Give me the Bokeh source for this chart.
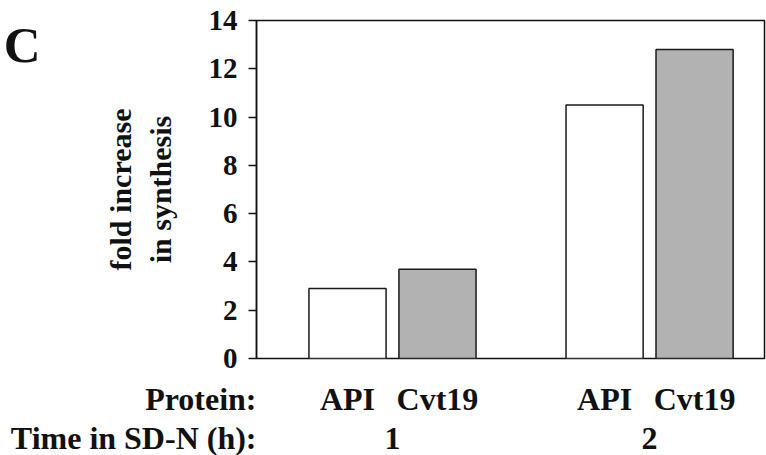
from bokeh.plotting import figure
from bokeh.layouts import column
from bokeh.models import Range1d, FixedTicker, LinearAxis
from bokeh.core.properties import value
from bokeh.embed import file_html
from bokeh.resources import INLINE

# ---- data ----
times = ["1", "2"]
proteins = ["API", "Cvt19"]
api = [2.9, 10.5]
cvt19 = [3.7, 12.8]
y_ticks = [0, 2, 4, 6, 8, 10, 12, 14]
row_headers = ["Protein:", "Time in SD-N (h):"]
panel_letter = "C"

FONT = "Liberation Serif"
INK = "#111111"
W = 766
FRAME_L, FRAME_R = 256, 2
offset = 0.175
bar_w = 0.30

x_api = [i - offset for i in range(len(times))]
x_cvt = [i + offset for i in range(len(times))]
x_start, x_end = -0.529, 1.447

# ---------------- main chart ----------------
MAIN_H = 378
p = figure(width=W, height=MAIN_H, output_backend="svg", toolbar_location=None,
           title=None, x_range=Range1d(x_start, x_end), y_range=Range1d(0, 14),
           min_border_left=FRAME_L, min_border_right=FRAME_R, min_border_top=20,
           min_border_bottom=20)
p.grid.visible = False
p.xaxis.visible = False
p.background_fill_color = "white"
p.border_fill_color = "white"
p.outline_line_color = INK
p.outline_line_width = 1.5

ya = p.yaxis[0]
ya.ticker = FixedTicker(ticks=y_ticks)
ya.minor_tick_line_color = None
ya.major_tick_in = 0
ya.major_tick_out = 8
ya.major_tick_line_width = 1.5
ya.major_tick_line_color = INK
ya.axis_line_color = INK
ya.axis_line_width = 1.5
ya.major_label_text_font = FONT
ya.major_label_text_font_style = "bold"
ya.major_label_text_font_size = "29px"
ya.major_label_text_color = INK
ya.major_label_standoff = 11
ya.axis_label = "fold increase\nin synthesis"
ya.axis_label_text_font = FONT
ya.axis_label_text_font_style = "bold"
ya.axis_label_text_font_size = "30px"
ya.axis_label_text_color = INK
ya.axis_label_standoff = 29

# panel letter as the only label of an outer, line-less left axis
c_tick = 12.98
c_axis = LinearAxis(ticker=FixedTicker(ticks=[c_tick]),
                    major_label_overrides={c_tick: panel_letter},
                    axis_line_color=None, major_tick_line_color=None,
                    minor_tick_line_color=None, major_tick_in=0, major_tick_out=0,
                    major_label_standoff=60,
                    major_label_text_font=FONT, major_label_text_font_style="bold",
                    major_label_text_font_size="51px", major_label_text_color=INK)
p.add_layout(c_axis, "left")

p.vbar(x=x_api, top=api, bottom=0, width=bar_w, fill_color="white",
       line_color="#1a1a1a", line_width=1.5)
p.vbar(x=x_cvt, top=cvt19, bottom=0, width=bar_w, fill_color="#b2b2b2",
       line_color="#1a1a1a", line_width=1.5)

# ---------------- category label strip ----------------
STRIP_H = 455 - MAIN_H
row_y = [20, 60]          # vertical centres of the two label rows (px from strip top)
q = figure(width=W, height=STRIP_H, output_backend="svg", toolbar_location=None,
           title=None, x_axis_type=None,
           x_range=p.x_range, y_range=Range1d(STRIP_H, 0),
           min_border_left=FRAME_L, min_border_right=FRAME_R, min_border_top=0,
           min_border_bottom=0)
q.grid.visible = False
q.outline_line_color = None
q.background_fill_color = "white"
q.border_fill_color = "white"

# row headers as the labels of the strip's left axis
qa = q.yaxis[0]
qa.ticker = FixedTicker(ticks=row_y)
qa.major_label_overrides = {yy: t for yy, t in zip(row_y, row_headers)}
qa.axis_line_color = None
qa.major_tick_line_color = None
qa.minor_tick_line_color = None
qa.major_tick_in = 0
qa.major_tick_out = 0
qa.major_label_standoff = 0
qa.major_label_text_font = FONT
qa.major_label_text_font_style = "bold"
qa.major_label_text_font_size = "32px"
qa.major_label_text_color = INK

txt_kw = dict(text_font=value(FONT), text_font_style="bold",
              text_font_size=value("32px"), text_color=INK,
              text_baseline="middle", text_align="center")
q.text(x=x_api + x_cvt, y=[row_y[0]] * (len(x_api) + len(x_cvt)),
       text=[proteins[0]] * len(x_api) + [proteins[1]] * len(x_cvt), **txt_kw)
q.text(x=list(range(len(times))), y=[row_y[1]] * len(times), text=times, **txt_kw)

layout = column(p, q, spacing=0)
open("out.html", "w").write(file_html(layout, INLINE))
